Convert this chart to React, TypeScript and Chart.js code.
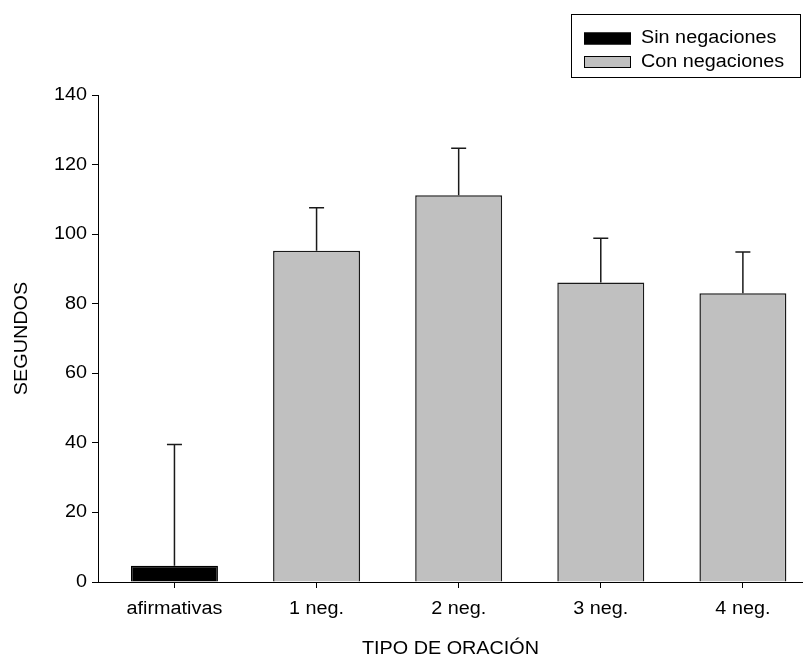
import React, { useEffect, useRef } from "react";
import { Chart, registerables } from "chart.js";

Chart.register(...registerables);

// ---- data ----
const categories = ["afirmativas", "1 neg.", "2 neg.", "3 neg.", "4 neg."];
const sinNegLabel = "Sin negaciones";
const conNegLabel = "Con negaciones";
const sinNegIndex = [0];
const sinNegValues = [4.7];
const sinNegErrors = [34.8];
const conNegIndex = [1, 2, 3, 4];
const conNegValues = [95.2, 111.2, 86.1, 83.0];
const conNegErrors = [12.4, 13.5, 12.7, 11.9];
const yTickValues = [0, 20, 40, 60, 80, 100, 120, 140];
const xTitle = "TIPO DE ORACIÓN";
const yTitle = "SEGUNDOS";

const FONT = "'Liberation Sans', Arial, Helvetica, sans-serif";
const STRETCH = 1.1;

function stretchText(ctx: any) {
  const orig = ctx.fillText;
  ctx.fillText = function (text: string, x: number, y: number) {
    this.save();
    this.translate(x, y);
    this.scale(STRETCH, 1);
    orig.call(this, text, 0, 0);
    this.restore();
  };
}

const whiteBg = {
  id: "whiteBg",
  beforeDraw(chart: any) {
    const { ctx, width, height } = chart;
    ctx.save();
    ctx.fillStyle = "#ffffff";
    ctx.fillRect(0, 0, width, height);
    ctx.restore();
  },
};

const errorBars = {
  id: "errorBars",
  afterDatasetsDraw(chart: any) {
    const ctx = chart.ctx;
    const ys = chart.scales.y;
    chart.data.datasets.forEach((ds: any, di: number) => {
      const meta = chart.getDatasetMeta(di);
      meta.data.forEach((el: any, i: number) => {
        const v = ds.data[i].y;
        const e = ds.errors[i];
        const x = el.x;
        const y0 = ys.getPixelForValue(v);
        const y1 = ys.getPixelForValue(v + e);
        ctx.save();
        ctx.strokeStyle = "#1a1a1a";
        ctx.lineWidth = 1.5;
        ctx.beginPath();
        ctx.moveTo(x, y0);
        ctx.lineTo(x, y1);
        ctx.moveTo(x - 7.5, y1);
        ctx.lineTo(x + 7.5, y1);
        ctx.stroke();
        ctx.restore();
      });
    });
  },
};

const boxLegend = {
  id: "boxLegend",
  afterDraw(chart: any) {
    const ctx = chart.ctx;
    ctx.save();
    ctx.strokeStyle = "#000";
    ctx.lineWidth = 1;
    ctx.strokeRect(571.5, 14.5, 229, 63);
    ctx.font = `18px ${FONT}`;
    ctx.textBaseline = "middle";
    ctx.textAlign = "left";
    chart.data.datasets.forEach((ds: any, i: number) => {
      const cy = 38.5 + i * 23.5;
      ctx.fillStyle = ds.backgroundColor;
      ctx.fillRect(584, cy - 6, 47, 12);
      ctx.strokeStyle = "#000";
      ctx.lineWidth = 1;
      ctx.strokeRect(584.5, cy - 5.5, 46, 11);
      ctx.fillStyle = "#000";
      ctx.fillText(ds.label, 641, cy);
    });
    ctx.restore();
  },
};

export default function App() {
  const ref = useRef<HTMLCanvasElement | null>(null);

  useEffect(() => {
    const canvas = ref.current;
    if (!canvas) return;
    const ctx = canvas.getContext("2d");
    stretchText(ctx);

    const chart = new Chart(ctx as any, {
      type: "bar",
      data: {
        datasets: [
          {
            label: sinNegLabel,
            data: sinNegValues.map((v, i) => ({ x: sinNegIndex[i], y: v })),
            errors: sinNegErrors,
            backgroundColor: "#000000",
            borderColor: "#000000",
            borderWidth: 1.5,
          } as any,
          {
            label: conNegLabel,
            data: conNegValues.map((v, i) => ({ x: conNegIndex[i], y: v })),
            errors: conNegErrors,
            backgroundColor: "#c0c0c0",
            borderColor: "#1a1a1a",
            borderWidth: 1.5,
          } as any,
        ],
      },
      options: {
        responsive: false,
        animation: false,
        events: [],
        datasets: {
          bar: {
            grouped: false,
            categoryPercentage: 1,
            barPercentage: 0.612,
          },
        } as any,
        layout: { padding: { top: 95, left: 0, right: 0, bottom: 0 } },
        plugins: {
          legend: { display: false },
          tooltip: { enabled: false },
        },
        scales: {
          x: {
            type: "linear",
            min: -0.538,
            max: 4.423,
            offset: false,
            afterBuildTicks: (s: any) => {
              s.ticks = categories.map((_, i) => ({ value: i }));
            },
            afterFit: (s: any) => {
              s.height = 76;
            },
            ticks: {
              autoSkip: false,
              maxRotation: 0,
              color: "#000",
              font: { family: FONT, size: 18 },
              padding: 10,
              callback: (v: any) => categories[v as number],
            },
            grid: {
              display: true,
              offset: false,
              drawOnChartArea: false,
              drawTicks: true,
              tickLength: 6,
              color: "#000",
              lineWidth: 1,
            },
            border: { display: true, color: "#000", width: 1 },
            title: {
              display: true,
              text: xTitle,
              color: "#000",
              font: { family: FONT, size: 18, lineHeight: 1 },
              padding: { top: 0, bottom: 0 },
            },
          } as any,
          y: {
            min: 0,
            max: 140,
            afterBuildTicks: (s: any) => {
              s.ticks = yTickValues.map((v) => ({ value: v }));
            },
            afterFit: (s: any) => {
              s.width = 98;
            },
            ticks: {
              color: "#000",
              font: { family: FONT, size: 18 },
              padding: 5,
            },
            grid: {
              display: true,
              drawOnChartArea: false,
              drawTicks: true,
              tickLength: 6,
              color: "#000",
              lineWidth: 1,
            },
            border: { display: true, color: "#000", width: 1 },
            title: {
              display: true,
              text: yTitle,
              color: "#000",
              font: { family: FONT, size: 18 },
              padding: { top: 11, bottom: 0 },
            },
          } as any,
        },
      },
      plugins: [whiteBg, errorBars, boxLegend],
    } as any);

    return () => chart.destroy();
  }, []);

  return (
    <div style={{ position: "absolute", left: 0, top: 0, width: 803, height: 658 }}>
      <canvas ref={ref} width={803} height={658} style={{ display: "block" }} />
    </div>
  );
}
